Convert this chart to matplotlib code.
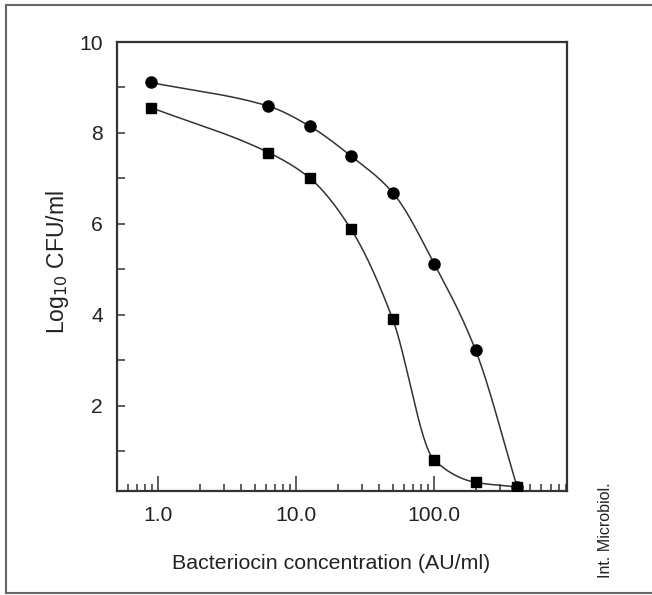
import numpy as np
import matplotlib
matplotlib.use('Agg')
import matplotlib.pyplot as plt
from matplotlib.lines import Line2D
from matplotlib.ticker import FixedLocator, NullFormatter

plt.rcParams['font.family'] = ['Liberation Sans', 'DejaVu Sans']

# bacteriocin concentration (AU/ml)
conc = [0.88, 6.28, 12.5, 25.0, 50.0, 100.0, 200.0, 400.0]
# log10 CFU/ml, two series
cfu_circle = [9.11, 8.59, 8.15, 7.49, 6.69, 5.13, 3.22, 0.22]
cfu_square = [8.56, 7.57, 7.01, 5.88, 3.91, 0.81, 0.32, 0.22]

xtick_vals = [1.0, 10.0, 100.0]
xtick_labels = ['1.0', '10.0', '100.0']
ytick_vals = [2, 4, 6, 8, 10]


def pchip(x, y, xs):
    # monotone cubic through the points, used only to draw the smooth line
    x = np.asarray(x, float)
    y = np.asarray(y, float)
    h = np.diff(x)
    d = np.diff(y) / h
    m = np.zeros_like(y)
    m[0] = d[0]
    m[-1] = d[-1]
    for k in range(1, len(x) - 1):
        if d[k - 1] * d[k] > 0:
            w1 = 2 * h[k] + h[k - 1]
            w2 = h[k] + 2 * h[k - 1]
            m[k] = (w1 + w2) / (w1 / d[k - 1] + w2 / d[k])
    idx = np.clip(np.searchsorted(x, xs) - 1, 0, len(x) - 2)
    t = (xs - x[idx]) / h[idx]
    h00 = 2 * t**3 - 3 * t**2 + 1
    h10 = t**3 - 2 * t**2 + t
    h01 = -2 * t**3 + 3 * t**2
    h11 = t**3 - t**2
    return h00 * y[idx] + h10 * h[idx] * m[idx] + h01 * y[idx + 1] + h11 * h[idx] * m[idx + 1]


fig = plt.figure(figsize=(6.52, 5.95), dpi=100)
ax = fig.add_axes([117 / 652, 1 - 491 / 595, 450 / 652, 449 / 595])

lx = np.log10(conc)
xs = np.linspace(lx[0], lx[-1], 400)
for ys, mk in [(cfu_circle, 'o'), (cfu_square, 's')]:
    ax.plot(10**xs, pchip(lx, ys, xs), color='#333333', lw=1.1, zorder=2)
    ax.plot(conc, ys, mk, color='black', ms=8 if mk == 'o' else 7, ls='none', zorder=3)

ax.set_xscale('log')
ax.set_xlim(0.5, 920)
ax.set_ylim(0.13, 10)

ax.xaxis.set_major_locator(FixedLocator(xtick_vals))
ax.set_xticklabels(xtick_labels)
minors = [m * 10.0**e for e in range(-1, 3) for m in range(2, 10)]
ax.xaxis.set_minor_locator(FixedLocator(minors))
ax.xaxis.set_minor_formatter(NullFormatter())
ax.yaxis.set_major_locator(FixedLocator(ytick_vals))
ax.yaxis.set_minor_locator(FixedLocator([1, 3, 5, 7, 9]))

ax.tick_params(axis='x', which='major', direction='in', length=11, width=1.1,
               pad=11, labelsize=15.2, color='#333333', labelcolor='#222222')
ax.tick_params(axis='x', which='minor', direction='in', length=5, width=1.1, color='#333333')
ax.tick_params(axis='y', which='both', direction='in', length=6, width=1.1,
               pad=10, labelsize=15.2, color='#333333', labelcolor='#222222')
ax.tick_params(top=False, right=False, which='both')

for s in ax.spines.values():
    s.set_linewidth(1.6)
    s.set_color('#333333')

ax.set_xlabel('Bacteriocin concentration (AU/ml)', fontsize=15.4, color='#222222')
ax.xaxis.set_label_coords(0.476, -0.14)
ax.set_ylabel('Log$_{10}$ CFU/ml', fontsize=16.5, color='#222222')
ax.yaxis.set_label_coords(-0.102, 0.51)

fig.text(605 / 652, 1 - 530 / 595, 'Int. Microbiol.', rotation=90, fontsize=11.5,
         ha='center', va='center', color='#222222')

# outer frame
fc = '#666666'
fig.add_artist(Line2D([6 / 652, 6 / 652], [1 - 593 / 595, 1 - 5 / 595], color=fc, lw=1.5))
fig.add_artist(Line2D([6 / 652, 1], [1 - 5 / 595, 1 - 5 / 595], color=fc, lw=1.5))
fig.add_artist(Line2D([6 / 652, 1], [1 - 593 / 595, 1 - 593 / 595], color=fc, lw=1.5))

fig.savefig('out.png', dpi=100)
